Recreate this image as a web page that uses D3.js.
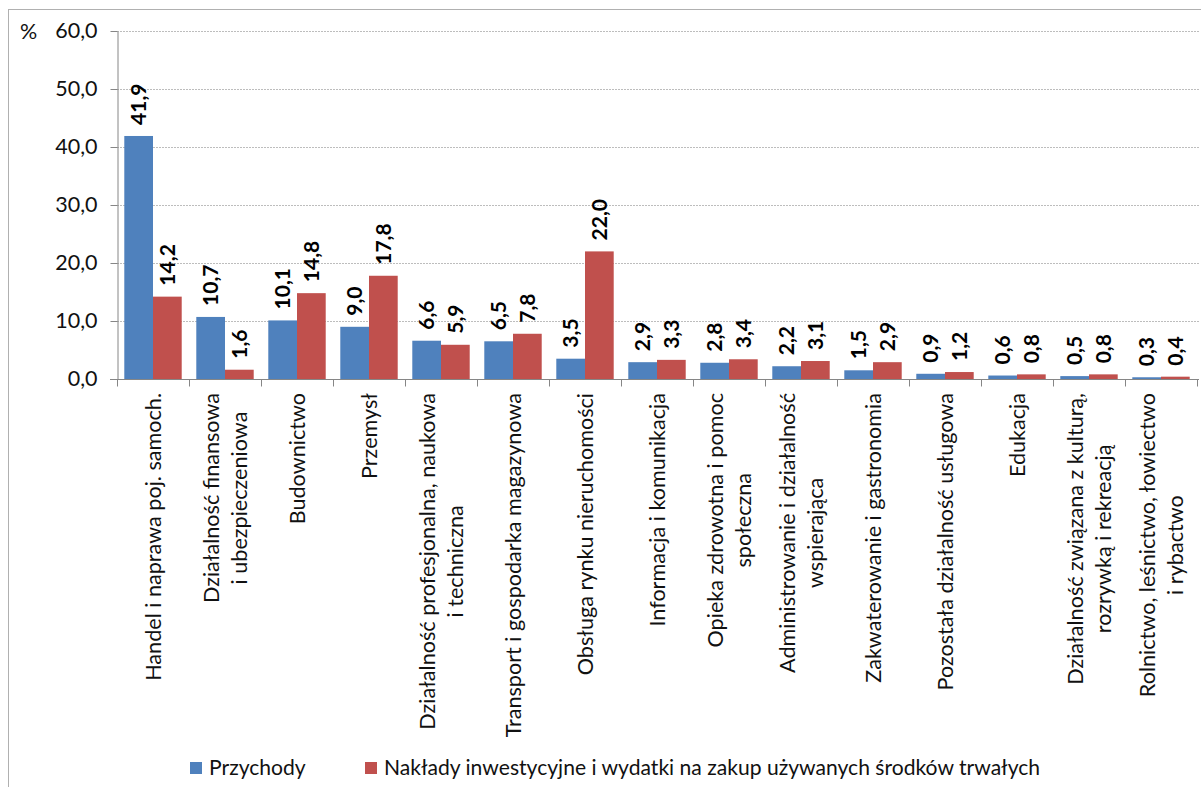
<!DOCTYPE html>
<html>
<head>
<meta charset="utf-8">
<script src="https://cdn.jsdelivr.net/npm/d3@7"></script>
<style>
  html, body { margin: 0; padding: 0; background: #fff; }
  svg { display: block; }
  text { font-family: Lato, "Open Sans", sans-serif; fill: #111; }
</style>
</head>
<body>
<svg id="chart" width="1201" height="787"></svg>
<script>
// ---- data ----
const categories = [
  ["Handel i naprawa poj. samoch."],
  ["Działalność finansowa", "i ubezpieczeniowa"],
  ["Budownictwo"],
  ["Przemysł"],
  ["Działalność profesjonalna, naukowa", "i techniczna"],
  ["Transport i gospodarka magazynowa"],
  ["Obsługa rynku nieruchomości"],
  ["Informacja i komunikacja"],
  ["Opieka zdrowotna i pomoc", "społeczna"],
  ["Administrowanie i działalność", "wspierająca"],
  ["Zakwaterowanie i gastronomia"],
  ["Pozostała działalność usługowa"],
  ["Edukacja"],
  ["Działalność związana z kulturą,", "rozrywką i rekreacją"],
  ["Rolnictwo, leśnictwo, łowiectwo", "i rybactwo"]
];
const seriesNames = ["Przychody", "Nakłady inwestycyjne i wydatki na zakup używanych środków trwałych"];
const przychody = [41.9, 10.7, 10.1, 9.0, 6.6, 6.5, 3.5, 2.9, 2.8, 2.2, 1.5, 0.9, 0.6, 0.5, 0.3];
const naklady   = [14.2, 1.6, 14.8, 17.8, 5.9, 7.8, 22.0, 3.3, 3.4, 3.1, 2.9, 1.2, 0.8, 0.8, 0.4];
const yTicks = [0, 10, 20, 30, 40, 50, 60];
const unitLabel = "%";
const colors = ["#4F81BD", "#C0504D"];

// ---- layout ----
const svg = d3.select("#chart");
const pLeft = 117, pRight = 1197, pTop = 31, pBottom = 379;
const catKeys = categories.map((c, i) => "c" + i);
const seriesKeys = ["s0", "s1"];
const values = [przychody, naklady];

const x = d3.scaleBand().domain(catKeys).range([pLeft, pRight]).paddingInner(0).paddingOuter(0);
const xs = d3.scaleBand().domain(seriesKeys).range([0, x.bandwidth()]).paddingInner(0).paddingOuter(0.254);
const y = d3.scaleLinear().domain([0, 60]).range([pBottom, pTop]);
const fmt = v => d3.format(".1f")(v).replace(".", ",");

// outer frame
svg.append("rect").attr("x", 8.5).attr("y", 9.5).attr("width", 1300).attr("height", 900)
  .attr("fill", "none").attr("stroke", "#b0b0b0").attr("stroke-width", 1);

// gridlines
svg.append("g").selectAll("line").data(yTicks.filter(t => t > 0)).join("line")
  .attr("x1", pLeft).attr("x2", 1199)
  .attr("y1", d => Math.round(y(d)) + 0.5).attr("y2", d => Math.round(y(d)) + 0.5)
  .attr("stroke", "#bdbdbd").attr("stroke-width", 1).attr("stroke-dasharray", "2,1");

// bars
const groups = svg.append("g").selectAll("g").data(catKeys).join("g")
  .attr("transform", d => `translate(${x(d)},0)`);
seriesKeys.forEach((s, si) => {
  groups.append("rect")
    .attr("x", xs(s))
    .attr("width", xs.bandwidth())
    .attr("y", (d, i) => y(values[si][i]))
    .attr("height", (d, i) => y(0) - y(values[si][i]))
    .attr("fill", colors[si]);
});

// data labels
seriesKeys.forEach((s, si) => {
  groups.append("text")
    .attr("transform", (d, i) => `translate(${xs(s) + xs.bandwidth() / 2},${y(values[si][i]) - 11}) rotate(-90)`)
    .attr("dy", "0.36em")
    .attr("text-anchor", "start")
    .style("font-weight", "bold")
    .style("font-size", "21px")
    .style("fill", "#000")
    .text((d, i) => fmt(values[si][i]));
});

// y axis
const yAxis = d3.axisLeft(y).tickValues(yTicks).tickFormat(fmt).tickSize(7).tickSizeOuter(0).tickPadding(13);
const gy = svg.append("g").attr("transform", `translate(${pLeft + 0.5},0)`).call(yAxis);
gy.select(".domain").attr("stroke", "#868686");
gy.selectAll(".tick line").attr("stroke", "#868686");
gy.selectAll(".tick text").style("font-size", "21.5px").style("font-family", "Lato, sans-serif").attr("fill", "#111");

svg.append("text").attr("x", 20).attr("y", 31).attr("dy", "0.35em")
  .style("font-size", "21.5px").text(unitLabel);

// x axis
const xAxis = d3.axisBottom(x).tickValues([]).tickSizeOuter(0);
const gx = svg.append("g").attr("transform", `translate(0,${pBottom + 0.5})`).call(xAxis);
gx.select(".domain").attr("stroke", "#868686").attr("d", `M${pLeft - 7},0H${1199}`);
gx.selectAll("line.bt").data(catKeys.concat(["end"])).join("line").attr("class", "bt")
  .attr("x1", (d, i) => Math.round(pLeft + i * x.step()) + 0.5)
  .attr("x2", (d, i) => Math.round(pLeft + i * x.step()) + 0.5)
  .attr("y1", 0).attr("y2", 7).attr("stroke", "#868686");

// category labels
const lineH = 28;
const catFont = 21.6;
categories.forEach((lines, i) => {
  const cx = x(catKeys[i]) + x.bandwidth() / 2;
  const g = svg.append("g").attr("transform", `translate(${cx},393) rotate(-90)`);
  const t = g.append("text").style("font-size", catFont + "px").attr("text-anchor", "middle");
  const n = lines.length;
  const spans = lines.map((ln, li) => t.append("tspan").attr("x", 0)
    .attr("y", (li - (n - 1) / 2) * lineH).attr("dy", "0.35em").text(ln));
  const maxLen = d3.max(spans, s => s.node().getComputedTextLength());
  spans.forEach(s => s.attr("x", -maxLen / 2));
});

// legend
const legend = [{x: 190, name: seriesNames[0], c: colors[0]}, {x: 365, name: seriesNames[1], c: colors[1]}];
const lg = svg.append("g");
legend.forEach(l => {
  lg.append("rect").attr("x", l.x).attr("y", 762).attr("width", 12).attr("height", 12).attr("fill", l.c);
  lg.append("text").attr("x", l.x + 19).attr("y", 768).attr("dy", "0.35em")
    .style("font-size", "21.1px").text(l.name);
});
</script>
</body>
</html>
